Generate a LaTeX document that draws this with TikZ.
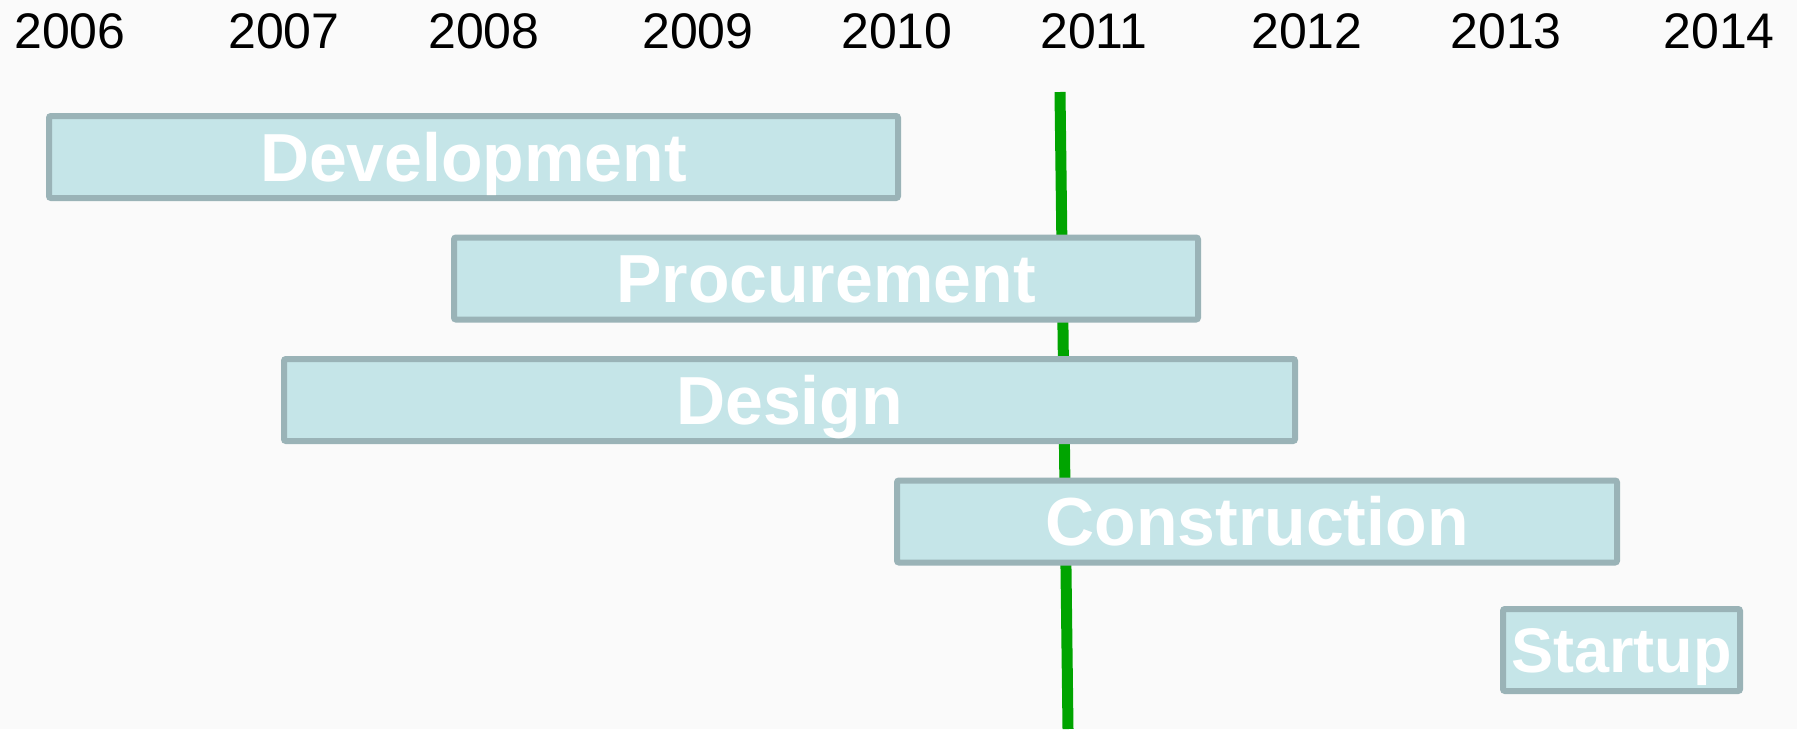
\documentclass[tikz,border=0pt]{standalone}
\usepackage{fontspec}
\setsansfont{Liberation Sans}
\definecolor{phasefill}{HTML}{C5E5E8}
\definecolor{phaseline}{HTML}{9AB3B7}
\definecolor{nowgreen}{HTML}{00A400}
\definecolor{pagebg}{HTML}{FAFAFA}

\begin{document}
\begin{tikzpicture}[y=-1pt, x=1pt, font=\sffamily,
	phase/.style={draw=phaseline, fill=phasefill, line width=6pt, rounded corners=2pt,
		inner sep=0pt, text=white, text depth=0pt, minimum height=82pt},
	year/.style={font=\sffamily\fontsize{50}{50}\selectfont, inner sep=0pt}]
	%background
	\fill[pagebg] (0,0) rectangle (1797,729);
	\useasboundingbox (0,0) rectangle (1797,729);
	%years
	\foreach \x/\ytext in {
		70/2006,
		284/2007,
		484/2008,
		698/2009,
		897/2010,
		1094/2011,
		1307/2012,
		1506/2013,
		1719/2014
	}
	\node[year] (y\ytext) at (\x,31) {\ytext};
	%today line
	\coordinate (now top) at (1060,92);
	\coordinate (now bottom) at (1068,729);
	\draw[nowgreen, line width=11pt] (now top) -- (now bottom);
	%phases
	\foreach \name/\cx/\cy/\w/\fs/\ptext in {
		dev/473.5/157/849/68/Development,
		proc/826/278.5/744/68/Procurement,
		des/789.5/400/1011/68/Design,
		con/1257/521.5/720/68/Construction,
		start/1621.5/650/237/63/Startup
	}
	\node[phase, minimum width=\w pt, text height=0.716*\fs pt,
		font=\sffamily\bfseries\fontsize{\fs}{\fs}\selectfont] (\name) at (\cx,\cy) {\ptext};
\end{tikzpicture}
\end{document}
